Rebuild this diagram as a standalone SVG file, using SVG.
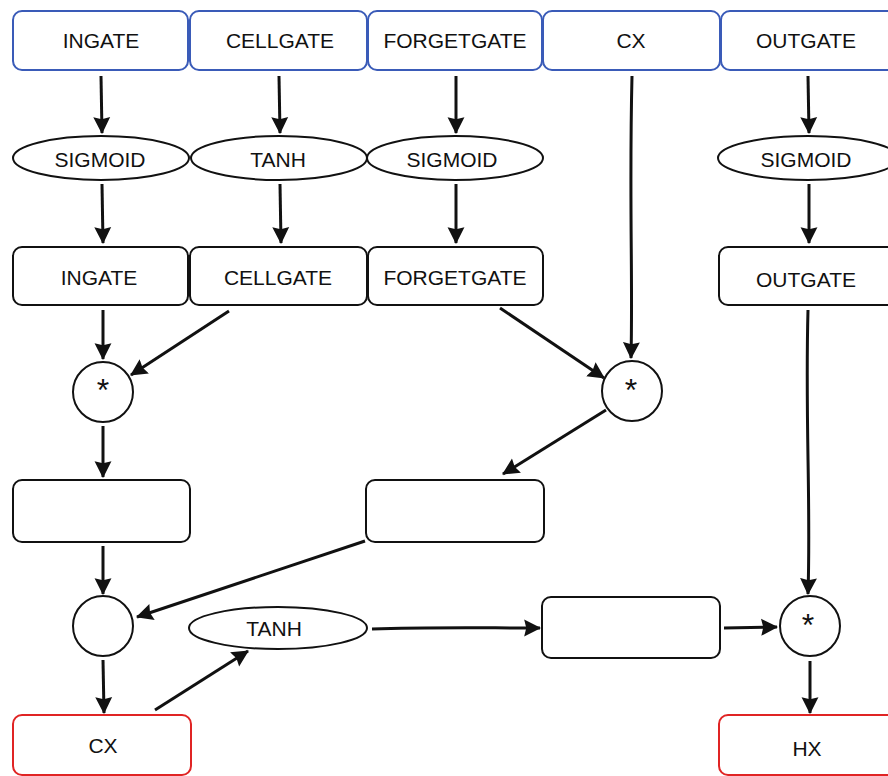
<svg xmlns="http://www.w3.org/2000/svg" width="888" height="776" viewBox="0 0 888 776">
<style>
.b{fill:#fff;stroke:#111;stroke-width:2}
.blue{stroke:#3a5bb8}
.red{stroke:#e02424}
text{font-family:"Liberation Sans","Arial",sans-serif;font-size:21px;fill:#111;text-anchor:middle}
.op{font-size:32px}
.c line,.c path{stroke:#111;stroke-width:3;fill:none;marker-end:url(#ah)}
</style>
<defs>
<marker id="ah" viewBox="0 0 16 18" refX="15" refY="9" markerWidth="17" markerHeight="19" orient="auto" markerUnits="userSpaceOnUse">
<path d="M0,1 L16,9 L0,17 L2,9 Z" fill="#111"/>
</marker>
</defs>
<rect width="888" height="776" fill="#fff"/>
<g class="c">
<line x1="101" y1="76" x2="102" y2="133"/>
<line x1="279" y1="76" x2="280" y2="133"/>
<line x1="456" y1="76" x2="456" y2="133"/>
<line x1="808" y1="76" x2="809" y2="133"/>
<path d="M632,76 C629,200 633,280 631,358"/>
<line x1="102" y1="184" x2="103" y2="243"/>
<line x1="280" y1="184" x2="281" y2="243"/>
<line x1="456" y1="184" x2="456" y2="243"/>
<line x1="809" y1="184" x2="809" y2="243"/>
<line x1="103" y1="310" x2="103" y2="359"/>
<line x1="229" y1="311" x2="131" y2="375"/>
<line x1="500" y1="308" x2="604" y2="378"/>
<path d="M808,310 C805,420 811,500 808,594"/>
<line x1="103" y1="426" x2="103" y2="477"/>
<line x1="606" y1="410" x2="503" y2="474"/>
<line x1="103" y1="546" x2="103" y2="594"/>
<line x1="365" y1="541" x2="137" y2="617"/>
<line x1="103" y1="660" x2="104" y2="713"/>
<line x1="155" y1="710" x2="248" y2="651"/>
<path d="M372,629 C430,627 480,628 540,628"/>
<line x1="724" y1="628" x2="777" y2="627"/>
<line x1="810" y1="661" x2="810" y2="713"/>
</g>
<g id="n_ingate"><rect class="b blue" x="13" y="11" width="175" height="59" rx="9"/><text x="101" y="48">INGATE</text></g>
<g id="n_cellgate"><rect class="b blue" x="190" y="11" width="177" height="59" rx="9"/><text x="280" y="48">CELLGATE</text></g>
<g id="n_forgetgate"><rect class="b blue" x="368" y="11" width="174" height="59" rx="9"/><text x="455" y="48">FORGETGATE</text></g>
<g id="n_cx_in"><rect class="b blue" x="543" y="11" width="177" height="59" rx="9"/><text x="631" y="48">CX</text></g>
<g id="n_outgate"><rect class="b blue" x="721" y="11" width="180" height="59" rx="9"/><text x="806" y="48">OUTGATE</text></g>
<g id="n_sig1"><ellipse class="b" cx="101" cy="158" rx="88" ry="22"/><text x="100" y="167">SIGMOID</text></g>
<g id="n_tanh1"><ellipse class="b" cx="279" cy="158" rx="88" ry="22"/><text x="278" y="167">TANH</text></g>
<g id="n_sig2"><ellipse class="b" cx="455" cy="158" rx="88" ry="22"/><text x="452" y="167">SIGMOID</text></g>
<g id="n_sig3"><ellipse class="b" cx="808" cy="158" rx="90" ry="22"/><text x="806" y="167">SIGMOID</text></g>
<g id="n_ingate2"><rect class="b" x="13" y="247" width="175" height="58" rx="9"/><text x="99" y="285">INGATE</text></g>
<g id="n_cellgate2"><rect class="b" x="190" y="247" width="177" height="58" rx="9"/><text x="278" y="285">CELLGATE</text></g>
<g id="n_forgetgate2"><rect class="b" x="368" y="247" width="175" height="58" rx="9"/><text x="455" y="285">FORGETGATE</text></g>
<g id="n_outgate2"><rect class="b" x="719" y="247" width="182" height="58" rx="9"/><text x="806" y="287">OUTGATE</text></g>
<g id="n_mul1"><circle class="b" cx="103" cy="392" r="30"/><text class="op" x="103" y="401">*</text></g>
<g id="n_mul2"><circle class="b" cx="632" cy="391" r="30"/><text class="op" x="631" y="401">*</text></g>
<g id="n_box1"><rect class="b" x="13" y="480" width="177" height="62" rx="9"/></g>
<g id="n_box2"><rect class="b" x="366" y="480" width="178" height="62" rx="9"/></g>
<g id="n_add"><circle class="b" cx="103" cy="626" r="30"/></g>
<g id="n_tanh2"><ellipse class="b" cx="278" cy="628" rx="89" ry="21"/><text x="274" y="636">TANH</text></g>
<g id="n_box3"><rect class="b" x="542" y="597" width="178" height="61" rx="9"/></g>
<g id="n_mul3"><circle class="b" cx="810" cy="626" r="30"/><text class="op" x="808" y="636">*</text></g>
<g id="n_cx_out"><rect class="b red" x="13" y="715" width="178" height="60" rx="9"/><text x="103" y="753">CX</text></g>
<g id="n_hx"><rect class="b red" x="719" y="715" width="182" height="60" rx="9"/><text x="807" y="756">HX</text></g>
</svg>
